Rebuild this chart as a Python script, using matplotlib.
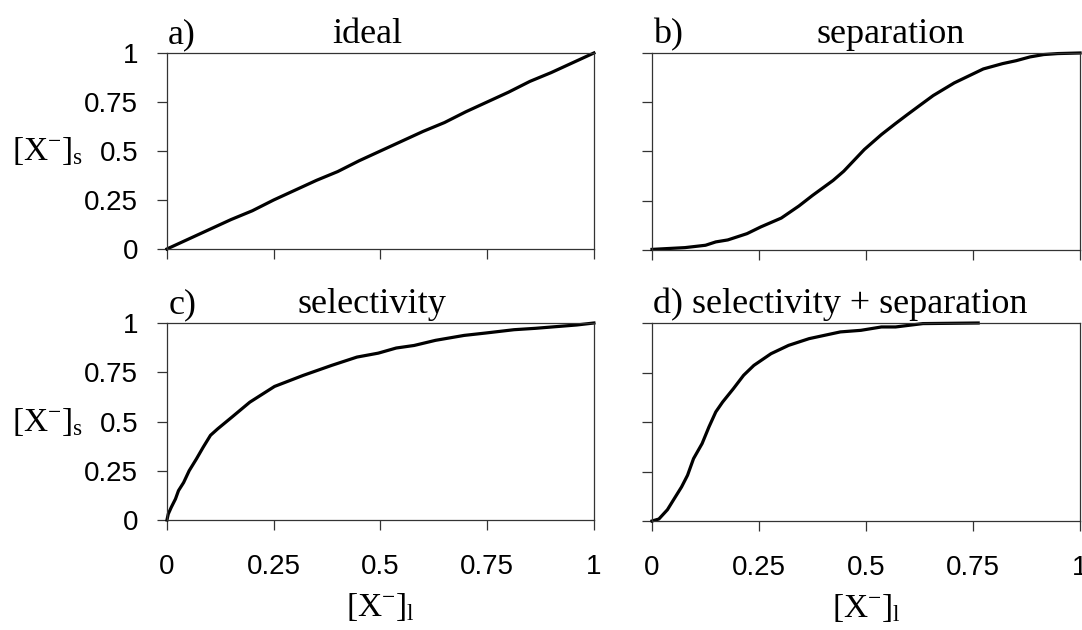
import matplotlib
matplotlib.use("Agg")
import matplotlib.pyplot as plt

plt.rcParams['font.family'] = ['Liberation Sans', 'DejaVu Sans']
plt.rcParams['mathtext.fontset'] = 'custom'
plt.rcParams['mathtext.rm'] = 'Liberation Serif'
plt.rcParams['mathtext.it'] = 'Liberation Serif:italic'

# ideal
ideal_x = [0, 0.1, 0.15, 0.2, 0.25, 0.3, 0.35, 0.4, 0.45, 0.5, 0.55, 0.6, 0.65,
           0.7, 0.75, 0.8, 0.85, 0.9, 0.95, 1.0]
ideal_y = [0, 0.1, 0.15, 0.195, 0.25, 0.3, 0.35, 0.395, 0.45, 0.5, 0.55, 0.6,
           0.645, 0.7, 0.75, 0.8, 0.855, 0.9, 0.95, 1.0]

# separation
sep_x = [0, 0.077, 0.125, 0.149, 0.177, 0.222, 0.254, 0.302, 0.343, 0.375, 0.423,
         0.448, 0.496, 0.536, 0.569, 0.597, 0.625, 0.657, 0.706, 0.774, 0.819,
         0.851, 0.883, 0.915, 0.948, 1.0]
sep_y = [0.003, 0.012, 0.024, 0.041, 0.051, 0.083, 0.117, 0.162, 0.223, 0.277,
         0.353, 0.400, 0.510, 0.586, 0.642, 0.688, 0.733, 0.784, 0.848, 0.919,
         0.946, 0.961, 0.980, 0.992, 0.997, 1.0]

# selectivity
sel_x = [0, 0.003, 0.01, 0.02, 0.027, 0.039, 0.052, 0.069, 0.085, 0.102, 0.119,
         0.152, 0.194, 0.252, 0.319, 0.386, 0.445, 0.495, 0.537, 0.579, 0.629,
         0.696, 0.746, 0.813, 0.863, 0.914, 0.96, 1.0]
sel_y = [0, 0.03, 0.064, 0.107, 0.149, 0.19, 0.25, 0.31, 0.37, 0.43, 0.463,
         0.522, 0.598, 0.678, 0.734, 0.785, 0.827, 0.847, 0.873, 0.886, 0.912,
         0.937, 0.949, 0.966, 0.973, 0.982, 0.99, 1.0]

# selectivity + separation
both_x = [0, 0.016, 0.036, 0.052, 0.069, 0.083, 0.097, 0.117, 0.133, 0.149, 0.165,
          0.19, 0.214, 0.238, 0.278, 0.319, 0.367, 0.44, 0.488, 0.536, 0.569,
          0.633, 0.762]
both_y = [0, 0.01, 0.057, 0.113, 0.172, 0.231, 0.315, 0.391, 0.475, 0.551, 0.601,
          0.668, 0.736, 0.786, 0.845, 0.887, 0.921, 0.955, 0.963, 0.98, 0.98,
          0.997, 1.0]

ticks = [0, 0.25, 0.5, 0.75, 1]
tick_labels = ['0', '0.25', '0.5', '0.75', '1']

panels = [
    (ideal_x, ideal_y, 'a)', 'ideal', 0.47),
    (sep_x, sep_y, 'b)', 'separation', 0.558),
    (sel_x, sel_y, 'c)', 'selectivity', 0.48),
    (both_x, both_y, 'd) selectivity + separation', '', 0),
]

fig = plt.figure(figsize=(10.82, 6.3), dpi=100)
rects = [
    [0.1543, 0.6048, 0.3946, 0.3111],
    [0.6026, 0.6032, 0.3956, 0.3127],
    [0.1543, 0.1746, 0.3946, 0.3127],
    [0.6026, 0.1730, 0.3956, 0.3143],
]

edge = '#333333'
for i, (xs, ys, tag, title, tx) in enumerate(panels):
    ax = fig.add_axes(rects[i])
    ax.plot(xs, ys, color='black', lw=2.3, solid_joinstyle='round', clip_on=False)
    ax.set_xlim(0, 1)
    ax.set_ylim(0, 1)
    for s in ax.spines.values():
        s.set_color(edge)
        s.set_linewidth(0.9)
    ax.set_xticks(ticks)
    ax.set_yticks(ticks)
    ax.tick_params(direction='out', length=7.2, width=0.9, color=edge,
                   labelsize=20, top=False, right=False)
    ax.tick_params(axis='y', pad=13.5)
    ax.tick_params(axis='x', pad=17.5)
    col, row = i % 2, i // 2
    if col == 0:
        ax.set_yticklabels(tick_labels)
        ax.text(-0.363, 0.5, r'$[\mathrm{X}^{-}]_{\mathrm{s}}$', transform=ax.transAxes,
                ha='left', va='center', fontsize=24)
    else:
        ax.set_yticklabels([])
    if row == 1:
        ax.set_xticklabels(tick_labels)
        ax.text(0.5, -0.44, r'$[\mathrm{X}^{-}]_{\mathrm{l}}$', transform=ax.transAxes,
                ha='center', va='center', fontsize=24)
    else:
        ax.set_xticklabels([])
    ax.text(0.003, 1.05, tag, transform=ax.transAxes, ha='left', va='baseline',
            fontsize=26, family='Liberation Serif')
    if title:
        ax.text(tx, 1.05, title, transform=ax.transAxes, ha='center', va='baseline',
                fontsize=26, family='Liberation Serif')

fig.savefig('out.png', dpi=100)
